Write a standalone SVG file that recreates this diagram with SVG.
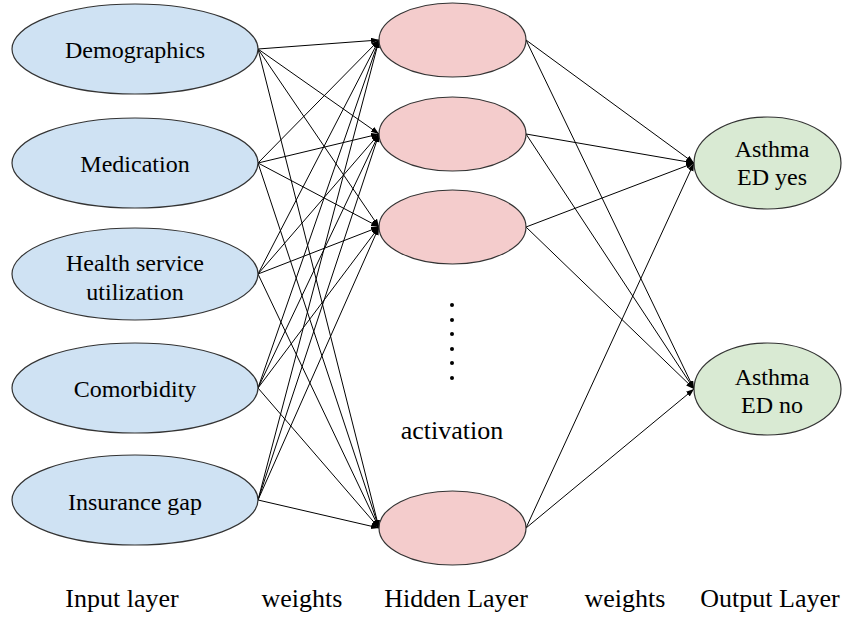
<svg xmlns="http://www.w3.org/2000/svg" width="843" height="618" viewBox="0 0 843 618">
<style>
.in{fill:#cfe2f3;stroke:#333;stroke-width:1.2}
.hid{fill:#f4cccc;stroke:#333;stroke-width:1.2}
.out{fill:#d9ead3;stroke:#333;stroke-width:1.2}
text{font-family:'Liberation Serif','DejaVu Serif',serif;fill:#000;text-anchor:middle}
.t{font-size:24px}
.b{font-size:26px}
#edges line{stroke:#000;stroke-width:1;marker-end:url(#ah)}
</style>
<defs>
<marker id="ah" markerUnits="userSpaceOnUse" markerWidth="10" markerHeight="8" refX="8" refY="3" orient="auto">
<path d="M0,0 L8,3 L0,6 z" fill="#000"/>
</marker>
</defs>
<rect width="843" height="618" fill="#fff"/>
<g id="edges">
<line x1="258" y1="49" x2="379" y2="40"/>
<line x1="258" y1="49" x2="379" y2="134"/>
<line x1="258" y1="49" x2="379" y2="227"/>
<line x1="258" y1="49" x2="379" y2="528"/>
<line x1="258" y1="163" x2="379" y2="40"/>
<line x1="258" y1="163" x2="379" y2="134"/>
<line x1="258" y1="163" x2="379" y2="227"/>
<line x1="258" y1="163" x2="379" y2="528"/>
<line x1="258" y1="274" x2="379" y2="40"/>
<line x1="258" y1="274" x2="379" y2="134"/>
<line x1="258" y1="274" x2="379" y2="227"/>
<line x1="258" y1="274" x2="379" y2="528"/>
<line x1="258" y1="388" x2="379" y2="40"/>
<line x1="258" y1="388" x2="379" y2="134"/>
<line x1="258" y1="388" x2="379" y2="227"/>
<line x1="258" y1="388" x2="379" y2="528"/>
<line x1="258" y1="500" x2="379" y2="40"/>
<line x1="258" y1="500" x2="379" y2="134"/>
<line x1="258" y1="500" x2="379" y2="227"/>
<line x1="258" y1="500" x2="379" y2="528"/>
<line x1="526" y1="40" x2="694" y2="163"/>
<line x1="526" y1="40" x2="694" y2="389"/>
<line x1="526" y1="134" x2="694" y2="163"/>
<line x1="526" y1="134" x2="694" y2="389"/>
<line x1="526" y1="227" x2="694" y2="163"/>
<line x1="526" y1="227" x2="694" y2="389"/>
<line x1="526" y1="528" x2="694" y2="163"/>
<line x1="526" y1="528" x2="694" y2="389"/>
</g>
<g id="in1"><ellipse class="in" cx="135" cy="49" rx="123" ry="45"/><text class="t" x="135" y="58">Demographics</text></g>
<g id="in2"><ellipse class="in" cx="135" cy="163" rx="123" ry="45"/><text class="t" x="135" y="172">Medication</text></g>
<g id="in3"><ellipse class="in" cx="135" cy="274" rx="123" ry="46"/><text class="t" x="135" y="271">Health service</text><text class="t" x="135" y="300">utilization</text></g>
<g id="in4"><ellipse class="in" cx="135" cy="388" rx="123" ry="45"/><text class="t" x="135" y="397">Comorbidity</text></g>
<g id="in5"><ellipse class="in" cx="135" cy="500" rx="123" ry="45"/><text class="t" x="135" y="510">Insurance gap</text></g>
<g id="h1"><ellipse class="hid" cx="452.5" cy="40" rx="73.5" ry="37"/></g>
<g id="h2"><ellipse class="hid" cx="452.5" cy="134" rx="73.5" ry="37"/></g>
<g id="h3"><ellipse class="hid" cx="452.5" cy="227" rx="73.5" ry="37"/></g>
<g id="h4"><ellipse class="hid" cx="452.5" cy="528" rx="73.5" ry="37"/></g>
<g id="dots" fill="#000">
<circle cx="452" cy="305" r="2"/><circle cx="452" cy="320" r="2"/><circle cx="452" cy="334" r="2"/><circle cx="452" cy="349" r="2"/><circle cx="452" cy="363" r="2"/><circle cx="452" cy="378" r="2"/>
</g>
<text class="b" x="452" y="439">activation</text>
<g id="o1"><ellipse class="out" cx="767.5" cy="163" rx="73.5" ry="46"/><text class="t" x="772" y="157">Asthma</text><text class="t" x="772" y="185">ED yes</text></g>
<g id="o2"><ellipse class="out" cx="767.5" cy="389" rx="73.5" ry="46"/><text class="t" x="772" y="385">Asthma</text><text class="t" x="772" y="413">ED no</text></g>
<g id="labels">
<text class="b" x="122" y="607">Input layer</text>
<text class="b" x="302" y="607">weights</text>
<text class="b" x="456" y="607">Hidden Layer</text>
<text class="b" x="625" y="607">weights</text>
<text class="b" x="770" y="607">Output Layer</text>
</g>
</svg>
